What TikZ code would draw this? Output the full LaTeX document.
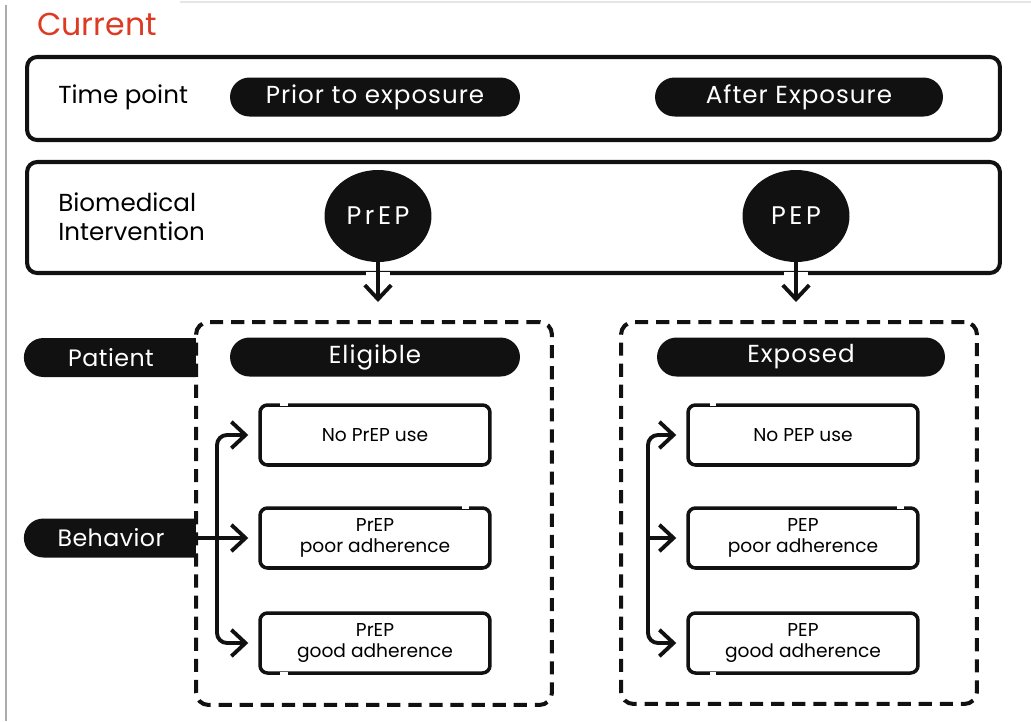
\documentclass[tikz,border=0pt]{standalone}
\usepackage{fontspec}
\setmainfont{Poppins}
\usetikzlibrary{shapes.geometric,shapes.misc,arrows.meta}
\definecolor{ink}{HTML}{111111}
\definecolor{titlered}{HTML}{DC3A22}
\begin{document}
\begin{tikzpicture}[x=0.02cm, y=-0.02cm,
  frame/.style={rectangle, draw=ink, line width=2.3pt, rounded corners=0.2cm, inner sep=0pt},
  panel/.style={rectangle, draw=ink, line width=2.3pt, dash pattern=on 7.5pt off 4.5pt, rounded corners=0.25cm, inner sep=0pt},
  pill/.style={rounded rectangle, fill=ink, text=white, minimum height=0.78cm, inner sep=0pt,
    font=\fontsize{14}{16}\selectfont\addfontfeatures{LetterSpace=4}},
  tag/.style={pill, rounded rectangle right arc=none, minimum width=3.44cm,
    font=\fontsize{13.5}{16}\selectfont\addfontfeatures{LetterSpace=2}},
  bubble/.style={ellipse, fill=ink, text=white, minimum width=2.14cm, minimum height=1.84cm, inner sep=0pt,
    font=\fontsize{14.5}{16}\selectfont\addfontfeatures{LetterSpace=14}},
  choice/.style={rectangle, draw=ink, line width=2pt, rounded corners=0.15cm, minimum width=4.6cm, minimum height=1.2cm, align=center, inner sep=0pt, font=\fontsize{10.6}{11.6}\selectfont},
  rowlabel/.style={font=\fontsize{14}{16.5}\selectfont, align=left, inner sep=0pt, anchor=west},
  link/.style={draw=ink, line width=2.2pt},
  tip/.style={-{Straight Barb[length=8pt,width=15pt]}},
  gap/.style={draw=white, line width=3.5pt},
]
\useasboundingbox (0,0) rectangle (1031,721);

% page edges
\draw[gray!65, line width=0.9pt] (6,5) -- (6,721);
\draw[gray!20, line width=0.8pt] (180,2) -- (1031,2);

% title
\node[text=titlered, font=\fontsize{18}{20}\selectfont, inner sep=0pt] (title) at (97,24) {Current};

% time point row
\node[frame, minimum width=19.46cm, minimum height=1.66cm] (time) at (513.5,98.5) {};
\node[rowlabel] (timelbl) at (58,97) {Time point};
\node[pill, minimum width=5.8cm] (prior) at (375,97) {Prior to exposure};
\node[pill, minimum width=5.76cm] (after) at (799,97) {After Exposure};

% intervention row
\node[frame, minimum width=19.46cm, minimum height=2.22cm] (intv) at (513.5,217.5) {};
\node[rowlabel] (intvlbl) at (58,217) {Biomedical\\Intervention};
\node[bubble] (prep) at (378,216) {PrEP};
\node[bubble] (pep) at (796,216) {PEP};

% openings in the frame where the arrows leave
\draw[draw=white, line width=4pt] ([xshift=-0.24cm]prep.south |- intv.south) -- ([xshift=0.24cm]prep.south |- intv.south);
\draw[draw=white, line width=4pt] ([xshift=-0.24cm]pep.south |- intv.south) -- ([xshift=0.24cm]pep.south |- intv.south);

\coordinate (prepTip) at (378,302);
\coordinate (pepTip) at (796,302);
\draw[link, tip] (prep) -- (prepTip);
\draw[link, tip] (pep) -- (pepTip);

% patient groups
\node[panel, minimum width=7.12cm, minimum height=7.66cm] (left) at (374,513.5) {};
\node[panel, minimum width=7.12cm, minimum height=7.64cm] (right) at (799,513) {};

\node[tag] (patient) at (111,357.5) {Patient};
\node[tag] (behavior) at (111,538) {Behavior};
\node[pill, minimum width=5.8cm] (eligible) at (375,357) {Eligible};
\node[pill, minimum width=5.76cm] (exposed) at (801,357) {Exposed};

% behaviour outcomes
\node[choice] (l1) at (375,435) {No PrEP use};
\node[choice] (l2) at (375,538) {PrEP\\poor adherence};
\node[choice] (l3) at (375,643) {PrEP\\good adherence};
\node[choice] (r1) at (803,435) {No PEP use};
\node[choice] (r2) at (803,538) {PEP\\poor adherence};
\node[choice] (r3) at (803,643) {PEP\\good adherence};

% hand-drawn breaks in the outlines
\draw[gap] ([xshift=0.44cm]l1.north west) -- ([xshift=0.6cm]l1.north west);
\draw[gap] ([xshift=-0.6cm]l2.north east) -- ([xshift=-0.46cm]l2.north east);
\draw[gap] ([xshift=0.44cm]l3.south west) -- ([xshift=0.6cm]l3.south west);
\draw[gap] ([xshift=0.48cm]r1.north west) -- ([xshift=0.6cm]r1.north west);
\draw[gap] ([xshift=-0.46cm]r2.north east) -- ([xshift=-0.32cm]r2.north east);
\draw[gap] ([xshift=0.48cm]r3.south west) -- ([xshift=0.6cm]r3.south west);

% branching connectors
\coordinate (lx) at (217,538);
\coordinate (rx) at (648,538);
\draw[link, rounded corners=0.2cm, {Straight Barb[length=8pt,width=15pt]}-{Straight Barb[length=8pt,width=15pt]}, shorten <=0.2cm, shorten >=0.2cm]
  (l1.west) -- (l1.west -| lx) -- (l3.west -| lx) -- (l3.west);
\draw[link, tip, shorten >=0.2cm] (behavior.east) -- (l2.west);
\draw[link, rounded corners=0.2cm, {Straight Barb[length=8pt,width=15pt]}-{Straight Barb[length=8pt,width=15pt]}, shorten <=0.2cm, shorten >=0.2cm]
  (r1.west) -- (r1.west -| rx) -- (r3.west -| rx) -- (r3.west);
\draw[link, tip, shorten >=0.2cm] (rx) -- (r2.west);
\end{tikzpicture}
\end{document}
